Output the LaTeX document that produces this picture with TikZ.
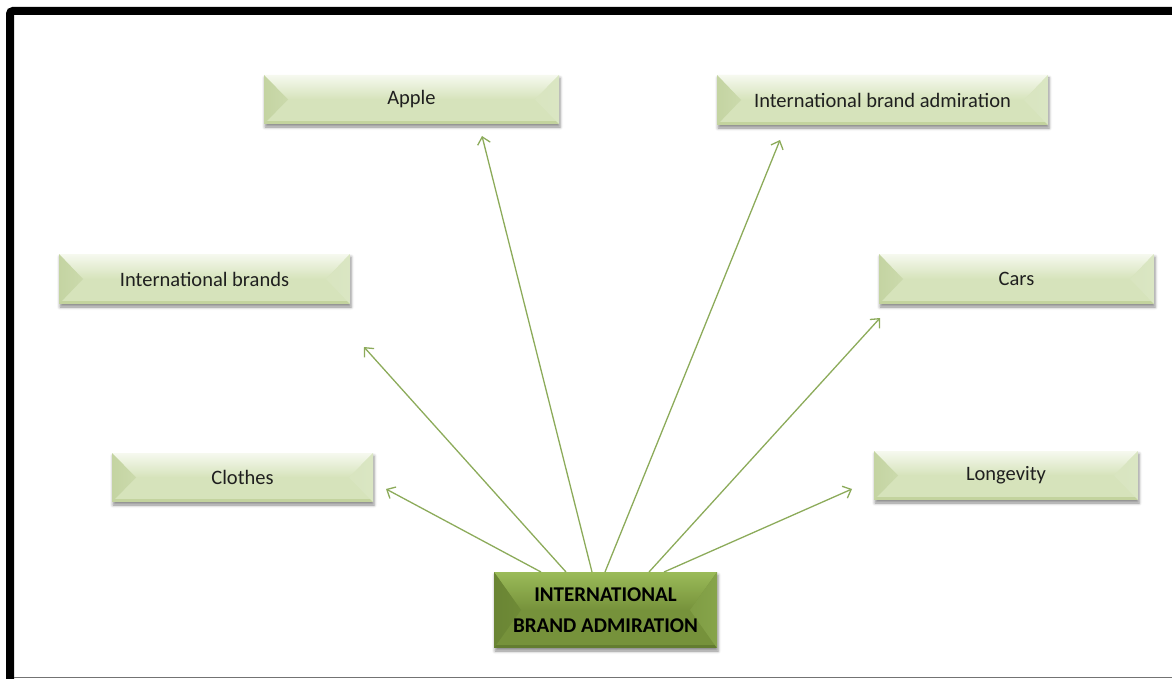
\documentclass[tikz,border=0pt]{standalone}
\usepackage{fontspec}
\setmainfont{Carlito}
\usetikzlibrary{calc,arrows.meta,shadows.blur}

\definecolor{lface}{HTML}{D6E3BB}
\definecolor{ltop}{HTML}{F6F9EF}
\definecolor{lleft}{HTML}{C4D4A2}
\definecolor{lright}{HTML}{DAE6C3}
\definecolor{lbottom}{HTML}{C3D39E}
\definecolor{dface}{HTML}{76923B}
\definecolor{dtop}{HTML}{9BBB59}
\definecolor{dleft}{HTML}{6A8534}
\definecolor{dright}{HTML}{86A44A}
\definecolor{dbottom}{HTML}{637D30}
\definecolor{arrowgreen}{HTML}{8CAB5A}

\tikzset{
  % bevelled box: face, top highlight, left facet, right facet, bottom rim, facet depth
  bevel/.style n args={6}{
    inner sep=0pt, outer sep=0pt, fill=#1,
    blur shadow={shadow xshift=1pt, shadow yshift=-3pt,
                 shadow blur radius=3pt, shadow opacity=45},
    path picture={
      \coordinate (bNW) at (path picture bounding box.north west);
      \coordinate (bNE) at (path picture bounding box.north east);
      \coordinate (bSW) at (path picture bounding box.south west);
      \coordinate (bSE) at (path picture bounding box.south east);
      \coordinate (aW) at ([xshift=#6]path picture bounding box.west);
      \coordinate (aE) at ([xshift=-#6]path picture bounding box.east);
      \shade[top color=#2, bottom color=#1] (bNW) -- (bNE) -- (aE) -- (aW) -- cycle;
      \fill[#5] (bSW) rectangle ([yshift=3pt]bSE);
      \shade[left color=#3, right color=#3!60!#1] (bNW) -- (aW) -- (bSW) -- cycle;
      \shade[right color=#4, left color=#4!60!#1] (bNE) -- (aE) -- (bSE) -- cycle;
    }
  },
  lightbox/.style={bevel={lface}{ltop}{lleft}{lright}{lbottom}{24pt},
    text=black!88, font=\fontsize{20.5}{24}\selectfont},
  darkbox/.style={bevel={dface}{dtop}{dleft}{dright}{dbottom}{27pt},
    text=black, align=center, font=\fontsize{21}{31}\selectfont\bfseries},
  link/.style={draw=arrowgreen, line width=1.3pt,
    -{Straight Barb[length=7pt,width=13pt,line width=1.3pt]}},
  frame/.style={line width=8pt, rounded corners=3pt},
}

\begin{document}
\begin{tikzpicture}[x=1pt,y=-1pt]
  \useasboundingbox (0,0) rectangle (1172,679);

  % outer frame
  \draw[frame] (10,679) -- (10,11) -- (1172,11);
  \draw[black!55, line width=1.6pt] (14,677.6) -- (1172,677.6);

  % topic boxes
  \node[lightbox, minimum width=295pt, minimum height=49pt] (apple)    at (411.5,99.5) {Apple};
  \node[lightbox, minimum width=331pt, minimum height=50pt] (iba)      at (882.5,100)  {International brand admiration};
  \node[lightbox, minimum width=291pt, minimum height=50pt] (brands)   at (204.5,279)  {International brands};
  \node[lightbox, minimum width=275pt, minimum height=50pt] (cars)     at (1016.5,279) {Cars};
  \node[lightbox, minimum width=261pt, minimum height=49pt] (clothes)  at (242.5,477.5){Clothes};
  \node[lightbox, minimum width=264pt, minimum height=49pt] (longev)   at (1006,475.5) {Longevity};

  % central box
  \node[darkbox, minimum width=223pt, minimum height=76pt] (core) at (605.5,610)
    {INTERNATIONAL\\BRAND ADMIRATION};

  % connectors from the central box
  \draw[link] ($(core.north)+(-64.5,0)$) -- ($(clothes.east)+(13,11.5)$);
  \draw[link] ($(core.north)+(-39.5,0)$) -- ($(brands.south east)+(14,43)$);
  \draw[link] ($(core.north)+(-13.5,0)$) -- ($(apple.south)+(70.5,12)$);
  \draw[link] ($(core.north)+(-0.5,0)$)  -- ($(iba.south)+(-102.5,15)$);
  \draw[link] ($(core.north)+(43.5,0)$)  -- ($(cars.south west)+(1,14)$);
  \draw[link] ($(core.north)+(58.5,0)$)  -- ($(longev.west)+(-22,13.5)$);
\end{tikzpicture}
\end{document}
